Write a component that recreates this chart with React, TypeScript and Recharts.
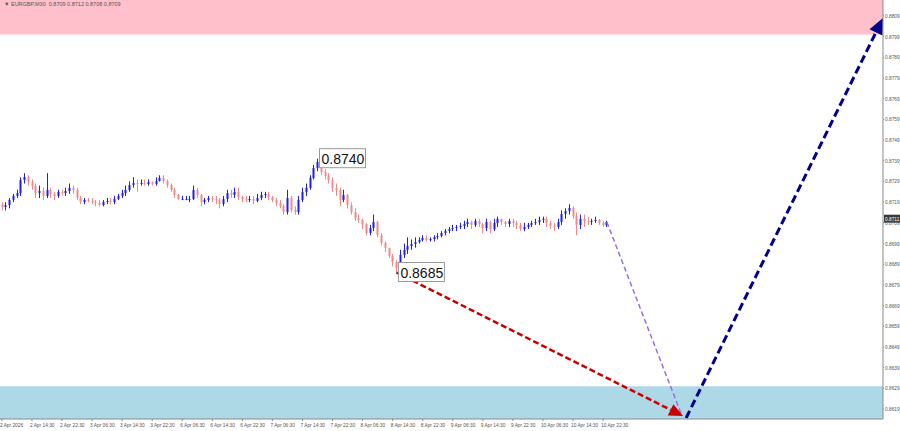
import { ComposedChart, Bar, XAxis, YAxis, ReferenceArea, ReferenceLine, ReferenceDot } from 'recharts';

// EURGBP, one candle per hour, open = previous close
const firstOpen = 0.8718;

const closes = [
  0.87167, 0.87176, 0.87201, 0.8722, 0.87234, 0.87297, 0.87312, 0.87287, 0.87268, 0.87234,
  0.87244, 0.8722, 0.87249, 0.87229, 0.8722, 0.87239, 0.87234, 0.87244, 0.87259, 0.87249,
  0.8721, 0.87191, 0.87201, 0.87196, 0.87191, 0.87186, 0.87176, 0.87191, 0.87196, 0.87191,
  0.87205, 0.8722, 0.87234, 0.87249, 0.87273, 0.87283, 0.87278, 0.87283, 0.87278, 0.87287,
  0.87278, 0.87292, 0.87307, 0.87292, 0.87273, 0.87249, 0.87225, 0.87205, 0.87205, 0.87205,
  0.87205, 0.87249, 0.87225, 0.87191, 0.87201, 0.8721, 0.87205, 0.87201, 0.87181, 0.87205,
  0.87234, 0.87225, 0.87239, 0.87215, 0.87205, 0.87201, 0.87205, 0.87196, 0.8721, 0.87225,
  0.87229, 0.87215, 0.87201, 0.87186, 0.87171, 0.87142, 0.8721, 0.87152, 0.87142, 0.87201,
  0.87239, 0.87259, 0.87307, 0.87355, 0.87384, 0.87336, 0.87316, 0.87297, 0.87259, 0.87249,
  0.87201, 0.87225, 0.87176, 0.87142, 0.87113, 0.87104, 0.87084, 0.87041, 0.87065, 0.87094,
  0.87031, 0.86993, 0.86968, 0.8693, 0.86901, 0.86872, 0.86935, 0.86959, 0.86978, 0.86988,
  0.86997, 0.87007, 0.87017, 0.87007, 0.87012, 0.87021, 0.87026, 0.87041, 0.87051, 0.8706,
  0.87065, 0.8707, 0.87075, 0.87084, 0.87094, 0.8708, 0.87099, 0.87084, 0.87065, 0.87094,
  0.8706, 0.87089, 0.87109, 0.87094, 0.87084, 0.87099, 0.87089, 0.8708, 0.8706, 0.8707,
  0.8708, 0.87089, 0.87094, 0.87104, 0.87109, 0.87089, 0.87075, 0.8707, 0.87094, 0.87133,
  0.87147, 0.87162, 0.87123, 0.8708, 0.87109, 0.87099, 0.87094, 0.87099, 0.87104, 0.87089,
  0.8708, 0.87094,
];

const highs = [
  0.8719, 0.8719, 0.8721, 0.8723, 0.8725, 0.8731, 0.8733, 0.8732, 0.873, 0.8728,
  0.8727, 0.8726, 0.8733, 0.8726, 0.8724, 0.8725, 0.8725, 0.8726, 0.8728, 0.8727,
  0.8726, 0.8722, 0.8721, 0.8721, 0.8721, 0.872, 0.872, 0.872, 0.8721, 0.8721,
  0.8722, 0.8723, 0.8725, 0.8727, 0.8729, 0.8731, 0.873, 0.873, 0.873, 0.873,
  0.8729, 0.8731, 0.8732, 0.8732, 0.873, 0.8728, 0.8726, 0.8723, 0.8722, 0.8722,
  0.8722, 0.8727, 0.8726, 0.8723, 0.8721, 0.8722, 0.8722, 0.8722, 0.8721, 0.8722,
  0.8725, 0.8725, 0.8726, 0.8726, 0.8722, 0.8722, 0.8722, 0.8722, 0.8723, 0.8724,
  0.8724, 0.8724, 0.8722, 0.8721, 0.872, 0.8718, 0.8725, 0.8722, 0.8717, 0.8722,
  0.8726, 0.8728, 0.8732, 0.8737, 0.874, 0.8739, 0.8735, 0.8733, 0.8731, 0.8728,
  0.8726, 0.8725, 0.8723, 0.8719, 0.8716, 0.8713, 0.8711, 0.8709, 0.8708, 0.8713,
  0.871, 0.8704, 0.87, 0.8697, 0.8694, 0.8691, 0.8696, 0.8699, 0.8702, 0.8701,
  0.8702, 0.8702, 0.8703, 0.8703, 0.8702, 0.8703, 0.8704, 0.8705, 0.8706, 0.8707,
  0.8708, 0.8708, 0.8709, 0.871, 0.8711, 0.871, 0.8711, 0.8711, 0.8709, 0.8711,
  0.871, 0.8711, 0.8712, 0.8711, 0.871, 0.8711, 0.8711, 0.871, 0.8709, 0.8709,
  0.8709, 0.871, 0.8711, 0.8712, 0.8712, 0.8712, 0.871, 0.8709, 0.8711, 0.8715,
  0.8716, 0.8718, 0.8717, 0.8714, 0.8713, 0.8713, 0.8712, 0.8711, 0.8712, 0.8711,
  0.871, 0.871,
];

const lows = [
  0.8715, 0.8715, 0.8716, 0.8719, 0.8721, 0.8722, 0.8728, 0.8727, 0.8725, 0.8721,
  0.8721, 0.872, 0.8721, 0.8721, 0.872, 0.8721, 0.8722, 0.8722, 0.8723, 0.8723,
  0.872, 0.8718, 0.8718, 0.8719, 0.8718, 0.8717, 0.8717, 0.8717, 0.8718, 0.8718,
  0.8718, 0.872, 0.8721, 0.8722, 0.8724, 0.8726, 0.8724, 0.8727, 0.8727, 0.8727,
  0.8727, 0.8727, 0.8729, 0.8728, 0.8726, 0.8724, 0.8721, 0.872, 0.872, 0.872,
  0.8719, 0.872, 0.8721, 0.8717, 0.8718, 0.8719, 0.8719, 0.8718, 0.8716, 0.8717,
  0.8719, 0.8721, 0.8721, 0.872, 0.8719, 0.8719, 0.8719, 0.8718, 0.8719, 0.872,
  0.8721, 0.872, 0.8719, 0.8717, 0.8716, 0.8713, 0.8713, 0.8714, 0.8713, 0.8713,
  0.8719, 0.8722, 0.8725, 0.873, 0.8734, 0.8732, 0.873, 0.8728, 0.8724, 0.8722,
  0.8717, 0.8719, 0.8716, 0.8713, 0.871, 0.8709, 0.8706, 0.8703, 0.8703, 0.8705,
  0.8702, 0.8698, 0.8695, 0.8692, 0.8688, 0.8685, 0.8686, 0.8692, 0.8694, 0.8696,
  0.8697, 0.8699, 0.87, 0.87, 0.87, 0.87, 0.8701, 0.8702, 0.8703, 0.8704,
  0.8705, 0.8705, 0.8706, 0.8706, 0.8707, 0.8706, 0.8707, 0.8707, 0.8704, 0.8705,
  0.8704, 0.8705, 0.8707, 0.8708, 0.8707, 0.8707, 0.8707, 0.8706, 0.8705, 0.8705,
  0.8706, 0.8707, 0.8708, 0.8708, 0.8709, 0.8707, 0.8706, 0.8705, 0.8706, 0.8708,
  0.8711, 0.8713, 0.8711, 0.8703, 0.8706, 0.8707, 0.8708, 0.8708, 0.8709, 0.8708,
  0.8707, 0.8707,
];

const timeTicks = [0, 8, 16, 24, 32, 40, 48, 56, 64, 72, 80, 88, 96, 104, 112, 120, 128, 136, 144, 152, 160];
const timeLabels = [
  '2 Apr 2026', '2 Apr 14:30', '2 Apr 22:30', '3 Apr 06:30', '3 Apr 14:30', '3 Apr 22:30',
  '6 Apr 06:30', '6 Apr 14:30', '6 Apr 22:30', '7 Apr 06:30', '7 Apr 14:30', '7 Apr 22:30',
  '8 Apr 06:30', '8 Apr 14:30', '8 Apr 22:30', '9 Apr 06:30', '9 Apr 14:30', '9 Apr 22:30',
  '10 Apr 06:30', '10 Apr 14:30', '10 Apr 22:30',
];

const priceTicks = [
  0.8619, 0.8629, 0.8639, 0.8649, 0.8659, 0.8669, 0.8679, 0.8689, 0.8699, 0.8709,
  0.8719, 0.8729, 0.8739, 0.8749, 0.8759, 0.8769, 0.8779, 0.8789, 0.8799, 0.8809,
];

const priceMin = 0.86142;
const priceMax = 0.88167;
const sellZone = [0.88, priceMax];
const buyZone = [priceMin, 0.863];
const lastPrice = 0.8711;

const peak = { i: 84, price: 0.874, text: '0.8740' };
const trough = { i: 105, price: 0.8685, text: '0.8685' };

const redWave = [{ x: 105, y: 0.8685 }, { x: 181.3, y: 0.86156 }];
const dropPath = [{ x: 161, y: 0.87094 }, { x: 180.8, y: 0.86166 }];
const navyWave = [{ x: 182.1, y: 0.86147 }, { x: 234.5, y: 0.8808 }];

const candles = closes.map((c, i) => ({
  i,
  open: i === 0 ? firstOpen : closes[i - 1],
  close: c,
  high: highs[i],
  low: lows[i],
}));

const FONT = 'Liberation Sans, Arial, sans-serif';

const Candle = (props: any) => {
  const { x, y, width, height, payload } = props;
  if (!payload) return null;
  const { open, close } = payload;
  const high = Math.max(payload.high, open, close);
  const low = Math.min(payload.low, open, close);
  const k = high === low ? 0 : height / (high - low);
  const cx = Math.round(x + width / 2) + 0.5;
  const yO = y + (high - open) * k;
  const yC = y + (high - close) * k;
  const up = close >= open;
  const color = up ? '#1f1fe6' : '#f08a8a';
  const top = Math.min(yO, yC);
  const h = Math.max(Math.abs(yO - yC), 1);
  return (
    <g>
      <line x1={cx} x2={cx} y1={y} y2={y + height} stroke={color} strokeWidth={1} />
      <rect x={cx - 1} y={top} width={2} height={h} fill={color} />
    </g>
  );
};

const arrow = (color: string, w: number, dash: string, head: number) => (p: any) => {
  const { x1, y1, x2, y2 } = p;
  const a = Math.atan2(y2 - y1, x2 - x1);
  const bx = x2 - head * Math.cos(a);
  const by = y2 - head * Math.sin(a);
  const hw = head * 0.45;
  const pts = `${x2},${y2} ${bx + hw * Math.sin(a)},${by - hw * Math.cos(a)} ${bx - hw * Math.sin(a)},${by + hw * Math.cos(a)}`;
  return (
    <g>
      <line x1={x1} y1={y1} x2={head ? bx : x2} y2={head ? by : y2} stroke={color} strokeWidth={w} strokeDasharray={dash} />
      {head > 0 && <polygon points={pts} fill={color} />}
    </g>
  );
};

const priceBox = (text: string) => (p: any) => (
  <g>
    <rect x={p.cx + 2} y={p.cy - 10} width={46} height={19} fill="#fff" stroke="#9a9a9a" strokeWidth={1} />
    <text x={p.cx + 4} y={p.cy + 5} fontSize={14} fontFamily={FONT} fill="#111">
      {text}
    </text>
  </g>
);

const lastPriceBox = (p: any) => {
  const right = Math.max(p.x1, p.x2);
  return (
    <g>
      <rect x={right + 1} y={p.y1 - 4} width={16} height={8} fill="#3a3a3a" />
      <text x={right + 2} y={p.y1 + 2} fontSize={4.8} fill="#fff" fontFamily={FONT}>
        {lastPrice.toFixed(4)}
      </text>
    </g>
  );
};

const TimeTick = (props: any) => {
  const { x, y, payload } = props;
  const idx = timeTicks.indexOf(payload.value);
  return (
    <text x={x - 2} y={y + 4} fontSize={4.8} fill="#555" textAnchor="start" fontFamily={FONT}>
      {timeLabels[idx]}
    </text>
  );
};

const PriceTick = (props: any) => {
  const { y, payload } = props;
  return (
    <text x={885} y={y + 2} fontSize={4.8} fill="#555" textAnchor="start" fontFamily={FONT}>
      {payload.value.toFixed(4)}
    </text>
  );
};

export default function App() {
  return (
    <div style={{ position: 'absolute', left: 0, top: 0, width: 900, height: 431, background: '#fff', fontFamily: FONT }}>
      <ComposedChart width={900} height={431} data={candles} margin={{ top: 0, right: 0, bottom: 0, left: 0 }}>
        <XAxis
          dataKey="i"
          type="number"
          domain={[-0.5, 234.5]}
          allowDataOverflow
          ticks={timeTicks}
          tick={<TimeTick />}
          height={12}
          axisLine={{ stroke: '#8a8a8a' }}
          tickLine={{ stroke: '#8a8a8a' }}
          tickSize={2}
          interval={0}
        />
        <YAxis
          orientation="right"
          type="number"
          domain={[priceMin, priceMax]}
          allowDataOverflow
          ticks={priceTicks}
          tick={<PriceTick />}
          width={17}
          axisLine={{ stroke: '#8a8a8a' }}
          tickLine={{ stroke: '#8a8a8a' }}
          tickSize={1}
          tickMargin={1}
          interval={0}
        />
        <ReferenceArea y1={sellZone[0]} y2={sellZone[1]} fill="#ffc0cb" fillOpacity={1} stroke="none" ifOverflow="visible" />
        <ReferenceArea y1={buyZone[0]} y2={buyZone[1]} fill="#add8e6" fillOpacity={1} stroke="none" ifOverflow="visible" />
        <Bar dataKey={(d: any) => [d.low, d.high]} shape={<Candle />} barSize={3} isAnimationActive={false} />
        <ReferenceLine segment={dropPath} ifOverflow="visible" shape={arrow('#9a6ee0', 1.5, '5 3', 0)} />
        <ReferenceLine segment={redWave} ifOverflow="visible" shape={arrow('#c80000', 2.5, '6 3', 14)} />
        <ReferenceLine segment={navyWave} ifOverflow="visible" shape={arrow('#00008b', 3, '8 4', 16)} />
        <ReferenceLine y={lastPrice} ifOverflow="visible" shape={lastPriceBox} />
        <ReferenceDot x={peak.i} y={peak.price} r={0} ifOverflow="visible" shape={priceBox(peak.text)} />
        <ReferenceDot x={trough.i} y={trough.price} r={0} ifOverflow="visible" shape={priceBox(trough.text)} />
      </ComposedChart>
      <div style={{ position: 'absolute', left: 4, top: 1, fontSize: 5.5, color: '#555', whiteSpace: 'pre' }}>
        {'▼ EURGBP,M30  0.8709 0.8712 0.8708 0.8709'}
      </div>
    </div>
  );
}
